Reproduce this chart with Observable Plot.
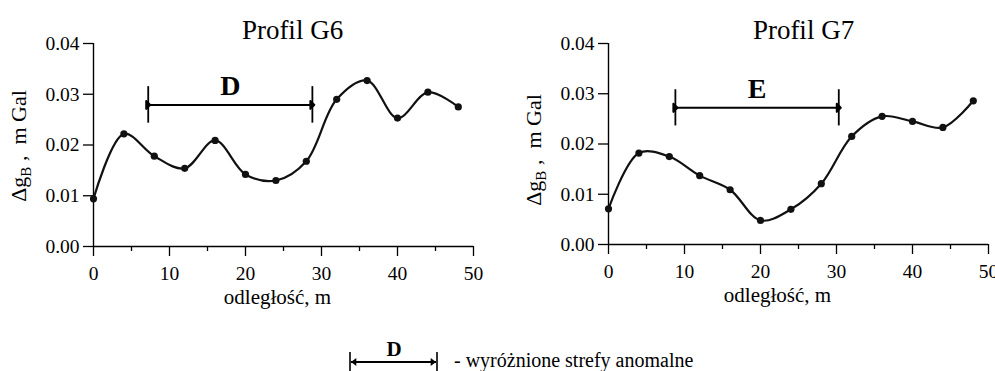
<!DOCTYPE html>
<html>
<head>
<meta charset="utf-8">
<script src="https://cdn.jsdelivr.net/npm/d3@7"></script>
<script src="https://cdn.jsdelivr.net/npm/@observablehq/plot@0.6"></script>
<style>
  html, body { margin: 0; padding: 0; background: #fff; }
  #wrap { position: relative; width: 995px; height: 371px; overflow: hidden; font-family: "Liberation Serif", "Times New Roman", serif; }
  #wrap svg, #wrap svg text, #wrap svg tspan { font-family: "Liberation Serif", "Times New Roman", serif !important; }
  #g6 { position: absolute; left: 0; top: 0; }
  #g7 { position: absolute; left: 495px; top: 0; }
  #legend { position: absolute; left: 0; top: 320px; }
</style>
</head>
<body>
<div id="wrap">
  <div id="g6"></div>
  <div id="g7"></div>
  <div id="legend"></div>
</div>
<script>
// ---- data ----
const distance = [0, 4, 8, 12, 16, 20, 24, 28, 32, 36, 40, 44, 48];
const profileG6 = [0.0094, 0.0222, 0.0178, 0.0154, 0.0209, 0.0142, 0.0130, 0.0168, 0.0290, 0.0327, 0.0253, 0.0304, 0.0275];
const profileG7 = [0.0071, 0.0182, 0.0175, 0.0137, 0.0109, 0.0048, 0.0070, 0.0121, 0.0215, 0.0255, 0.0245, 0.0233, 0.0286];
const titles = ["Profil G6", "Profil G7"];
const zoneLabels = ["D", "E"];
const zoneStart = [7.2, 8.8];
const zoneEnd = [28.8, 30.3];
const zoneLevel = [0.0279, 0.0272];
const zoneHalfHeight = 0.0036;
const yTicks = [0, 0.01, 0.02, 0.03, 0.04];
const xTicks = [0, 10, 20, 30, 40, 50];
const xMinorTicks = [5, 15, 25, 35, 45];
const xLabel = "odległość, m";
const legendText = "- wyróżnione strefy anomalne";

const FONT = "'Liberation Serif', 'Times New Roman', serif";

function makeProfile(values, i, layout) {
  const data = distance.map((d, k) => ({d, v: values[k]}));
  const zone = [{x1: zoneStart[i], x2: zoneEnd[i], y: zoneLevel[i], label: zoneLabels[i], xm: (zoneStart[i] + zoneEnd[i]) / 2}];
  const svg = Plot.plot({
    width: layout.width,
    height: 320,
    marginLeft: layout.ml,
    marginRight: layout.mr,
    marginTop: layout.mt,
    marginBottom: layout.mb,
    style: {fontFamily: FONT, fontSize: "19px", color: "black", background: "white", overflow: "visible"},
    x: {domain: [0, 50]},
    y: {domain: [0, 0.04]},
    marks: [
      Plot.axisY({ticks: yTicks, tickFormat: d3.format(".2f"), tickSize: 10, tickPadding: 4, label: null, fontSize: 19.5, fontFamily: FONT, strokeWidth: 1.3}),
      Plot.axisX({ticks: xTicks, tickSize: 10, tickPadding: 10, label: null, fontSize: 19.5, fontFamily: FONT, strokeWidth: 1.3}),
      Plot.axisX({ticks: xMinorTicks, tickSize: 5, tickFormat: () => "", label: null, strokeWidth: 1.3}),
      Plot.ruleX([0], {strokeWidth: 1.4}),
      Plot.ruleY([0], {strokeWidth: 1.4}),
      Plot.line(data, {x: "d", y: "v", curve: "catmull-rom", strokeWidth: 2.2, stroke: "#111"}),
      Plot.dot(data, {x: "d", y: "v", r: 3.6, fill: "#111", stroke: "none"}),
      Plot.ruleX(zone, {x: "x1", y1: d => d.y - zoneHalfHeight, y2: d => d.y + zoneHalfHeight, strokeWidth: 1.8}),
      Plot.ruleX(zone, {x: "x2", y1: d => d.y - zoneHalfHeight, y2: d => d.y + zoneHalfHeight, strokeWidth: 1.8}),
      Plot.link(zone, {x1: "x1", x2: "x2", y1: "y", y2: "y", strokeWidth: 2, markerStart: "arrow", markerEnd: "arrow"}),
      Plot.text(zone, {x: "xm", y: "y", text: "label", dy: -19, fontSize: 28, fontWeight: "bold", fontFamily: FONT}),
      Plot.text([titles[i]], {frameAnchor: "top", dy: -24, dx: layout.tdx, fontSize: 27, fontFamily: FONT}),
      Plot.text([xLabel], {frameAnchor: "bottom", dy: 57, dx: layout.ldx, fontSize: 21, fontFamily: FONT})
    ]
  });
  // filled arrow heads
  d3.select(svg).selectAll("marker path").each(function() {
    const p = d3.select(this);
    const dd = p.attr("d");
    if (dd && !/Z$/i.test(dd)) p.attr("d", dd + "Z");
    p.attr("fill", "currentColor");
  });
  // rotated y-axis label with subscript
  const t = d3.select(svg).append("text")
    .attr("transform", `translate(${layout.ylx},${layout.yly}) rotate(-90)`)
    .attr("text-anchor", "middle")
    .attr("font-size", 22)
    .attr("fill", "black");
  t.append("tspan").text("Δg");
  t.append("tspan").attr("font-size", 15).attr("dy", 5).text("B");
  t.append("tspan").attr("dy", -5).text(" ,  m Gal");
  return svg;
}

document.getElementById("g6").append(makeProfile(profileG6, 0, {width: 495, ml: 93, mr: 22, mt: 43, mb: 74, tdx: 9, ldx: -6, ylx: 26, yly: 146}));
document.getElementById("g7").append(makeProfile(profileG7, 1, {width: 500, ml: 113, mr: 7, mt: 43, mb: 76, tdx: 5, ldx: -21, ylx: 46, yly: 150}));

// legend
const leg = d3.select("#legend").append("svg").attr("width", 995).attr("height", 51);
const defs = leg.append("defs");
defs.append("marker").attr("id", "lg-arrow").attr("viewBox", "-5 -5 10 10")
  .attr("markerWidth", 6.67).attr("markerHeight", 6.67).attr("orient", "auto-start-reverse")
  .append("path").attr("d", "M-4,-3L0,0L-4,3Z").attr("fill", "black");
leg.append("line").attr("x1", 350).attr("x2", 350).attr("y1", 32).attr("y2", 51).attr("stroke", "black").attr("stroke-width", 1.6);
leg.append("line").attr("x1", 437).attr("x2", 437).attr("y1", 32).attr("y2", 51).attr("stroke", "black").attr("stroke-width", 1.6);
leg.append("line").attr("x1", 351).attr("x2", 436).attr("y1", 42).attr("y2", 42).attr("stroke", "black").attr("stroke-width", 2)
  .attr("marker-start", "url(#lg-arrow)").attr("marker-end", "url(#lg-arrow)");
leg.append("text").attr("x", 394).attr("y", 36).attr("text-anchor", "middle").attr("font-size", 21).attr("font-weight", "bold").text(zoneLabels[0]);
leg.append("text").attr("x", 454).attr("y", 47).attr("font-size", 20).text(legendText);
</script>
</body>
</html>
